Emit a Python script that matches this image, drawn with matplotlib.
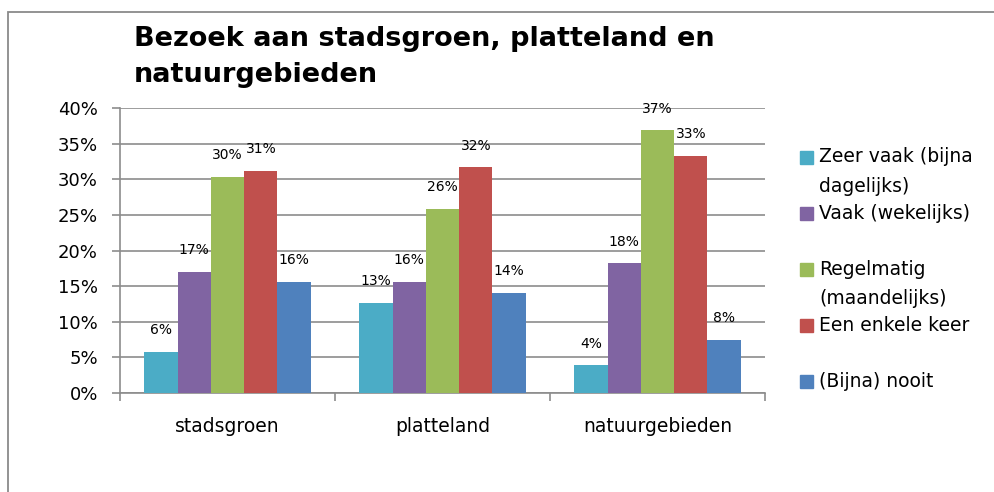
import numpy as np
import matplotlib.pyplot as plt
from matplotlib.patches import Rectangle

categories = ['stadsgroen', 'platteland', 'natuurgebieden']
series = ['Zeer vaak (bijna\ndagelijks)', 'Vaak (wekelijks)',
          'Regelmatig\n(maandelijks)', 'Een enkele keer', '(Bijna) nooit']
zeer_vaak = [5.8, 12.7, 3.9]
vaak = [17.0, 15.6, 18.2]
regelmatig = [30.4, 25.9, 36.9]
enkele_keer = [31.2, 31.7, 33.3]
nooit = [15.6, 14.1, 7.5]
values = [zeer_vaak, vaak, regelmatig, enkele_keer, nooit]
colors = ['#4BACC6', '#8064A2', '#9BBB59', '#C0504D', '#4F81BD']
yticks = [0, 5, 10, 15, 20, 25, 30, 35, 40]

W, H = 995, 492
grid_col = '#8c8c8c'

plt.rcParams['font.family'] = 'DejaVu Sans'
fig = plt.figure(figsize=(W / 100, H / 100), dpi=100)
ax = fig.add_axes([120 / W, 1 - 393 / H, 645 / W, (393 - 108.3) / H])

# chart frame (cut off at right and bottom)
fig.patches.append(Rectangle((8 / W, -0.2), 2, 1.2 - 12 / H, transform=fig.transFigure,
                             fill=False, edgecolor='#8a8a8a', linewidth=1.3))

x = np.arange(len(categories))
bw = 0.155
for i, (vals, col) in enumerate(zip(values, colors)):
    pos = x + (i - 2) * bw
    ax.bar(pos, vals, width=bw, color=col, zorder=3)
    for px, v in zip(pos, vals):
        ax.annotate('%d%%' % round(v), (px, v), xytext=(0, 15.5), textcoords='offset points',
                    ha='center', va='center', fontsize=10, zorder=4)

ax.set_xlim(-0.5, 2.5)
ax.set_ylim(0, 40)
ax.set_yticks(yticks)
ax.set_yticklabels(['%d%%' % t for t in yticks], fontsize=13)
ax.yaxis.grid(True, color=grid_col, linewidth=1.2, zorder=0)
ax.set_axisbelow(True)

ax.set_xticks([-0.5, 0.5, 1.5, 2.5])
ax.set_xticklabels([])
ax.set_xticks(x, minor=True)
ax.set_xticklabels(categories, minor=True, fontsize=13.5)
ax.tick_params(axis='x', which='minor', length=0, pad=17)
ax.tick_params(axis='x', which='major', length=6, color=grid_col, width=1.2)
ax.tick_params(axis='y', length=6, color=grid_col, width=1.2, pad=10)

for s in ['top', 'right']:
    ax.spines[s].set_visible(False)
for s in ['left', 'bottom']:
    ax.spines[s].set_color(grid_col)
    ax.spines[s].set_linewidth(1.2)

# legend, drawn by hand to keep Excel's spacing
for i, (lab, col) in enumerate(zip(series, colors)):
    yc = 157 + 56.2 * i
    fig.patches.append(Rectangle((800 / W, 1 - (yc + 6.5) / H), 13 / W, 13 / H,
                                 transform=fig.transFigure, color=col))
    for j, line in enumerate(lab.split('\n')):
        fig.text(819 / W, 1 - (yc + 29 * j) / H, line, fontsize=13.5, va='center', ha='left')

fig.text(134 / W, 1 - 46 / H, 'Bezoek aan stadsgroen, platteland en',
         fontsize=19.5, fontweight='bold', va='baseline')
fig.text(134 / W, 1 - 82 / H, 'natuurgebieden',
         fontsize=19.5, fontweight='bold', va='baseline')

fig.savefig('out.png', dpi=100, facecolor='white')
